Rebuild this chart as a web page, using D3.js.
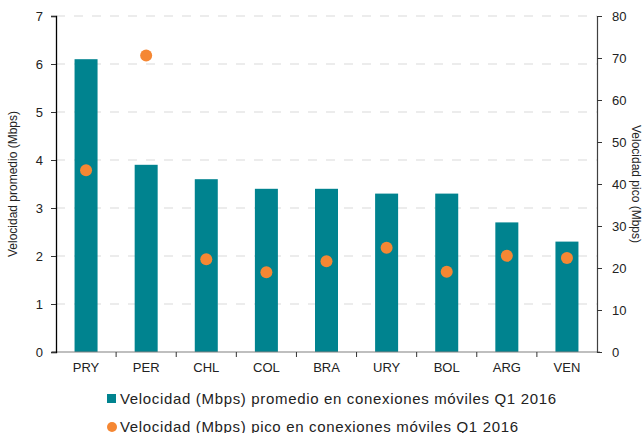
<!DOCTYPE html>
<html>
<head>
<meta charset="utf-8">
<script src="https://cdn.jsdelivr.net/npm/d3@7"></script>
<style>
  body { margin: 0; background: #fff; }
  svg { display: block; font-family: "Liberation Sans", Arial, sans-serif; }
</style>
</head>
<body>
<svg id="chart" width="643" height="433"></svg>
<script>
// Países y velocidades móviles, Q1 2016
const countries = ["PRY", "PER", "CHL", "COL", "BRA", "URY", "BOL", "ARG", "VEN"];
const avgSpeed  = [6.1, 3.9, 3.6, 3.4, 3.4, 3.3, 3.3, 2.7, 2.3];
const peakSpeed = [43.3, 70.6, 22.1, 19.0, 21.6, 24.8, 19.1, 22.9, 22.4];
const leftTicks  = [0, 1, 2, 3, 4, 5, 6, 7];
const rightTicks = [0, 10, 20, 30, 40, 50, 60, 70, 80];
const seriesNames = [
  "Velocidad (Mbps) promedio en conexiones móviles Q1 2016",
  "Velocidad (Mbps) pico en conexiones móviles Q1 2016"
];

const barColor = "#00838f";
const dotColor = "#f58733";

const svg = d3.select("#chart");
const m = { left: 56, right: 597, top: 16, bottom: 352 };

const x = d3.scaleBand().domain(countries).range([m.left, m.right]).paddingInner(0).paddingOuter(0);
const yL = d3.scaleLinear().domain([0, 7]).range([m.bottom, m.top]);
const yR = d3.scaleLinear().domain([0, 80]).range([m.bottom, m.top]);

// Líneas de cuadrícula discontinuas
svg.append("g")
  .selectAll("line")
  .data(leftTicks.filter(d => d > 0))
  .join("line")
  .attr("x1", m.left).attr("x2", m.right)
  .attr("y1", d => yL(d)).attr("y2", d => yL(d))
  .attr("stroke", "#d9d9d9")
  .attr("stroke-width", 1.2)
  .attr("stroke-dasharray", "9,9");

// Barras: velocidad promedio
const barW = 23;
svg.append("g")
  .selectAll("rect")
  .data(countries)
  .join("rect")
  .attr("x", (d) => x(d) + x.bandwidth() / 2 - barW / 2)
  .attr("width", barW)
  .attr("y", (d, i) => yL(avgSpeed[i]))
  .attr("height", (d, i) => yL(0) - yL(avgSpeed[i]))
  .attr("fill", barColor);

// Eje X
const xAxisG = svg.append("g").attr("transform", `translate(0,${m.bottom})`);
xAxisG.append("line")
  .attr("x1", m.left - 4).attr("x2", m.right + 3)
  .attr("y1", 0).attr("y2", 0)
  .attr("stroke", "#808080").attr("stroke-width", 1.2);
xAxisG.selectAll("line.tick")
  .data(countries.slice(1))
  .join("line")
  .attr("class", "tick")
  .attr("x1", d => x(d)).attr("x2", d => x(d))
  .attr("y1", 0).attr("y2", 5)
  .attr("stroke", "#333").attr("stroke-width", 1);
xAxisG.selectAll("text")
  .data(countries)
  .join("text")
  .attr("x", d => x(d) + x.bandwidth() / 2)
  .attr("y", 20)
  .attr("text-anchor", "middle")
  .attr("font-size", 13)
  .attr("fill", "#222")
  .text(d => d);

// Eje izquierdo
const leftAxis = d3.axisLeft(yL).tickValues(leftTicks).tickSize(5).tickPadding(8).tickFormat(d3.format("d"));
const gL = svg.append("g").attr("transform", `translate(${m.left},0)`).call(leftAxis);
gL.select(".domain").attr("stroke", "#000").attr("stroke-width", 1.3);
gL.selectAll(".tick line").attr("stroke", "#333");
gL.selectAll(".tick text").attr("font-size", 13).attr("fill", "#222").attr("font-family", "Liberation Sans, Arial, sans-serif");

// Eje derecho
const rightAxis = d3.axisRight(yR).tickValues(rightTicks).tickSize(5).tickPadding(10).tickFormat(d3.format("d"));
const gR = svg.append("g").attr("transform", `translate(${m.right},0)`).call(rightAxis);
gR.select(".domain").attr("stroke", "#404040").attr("stroke-width", 1.2);
gR.selectAll(".tick line").attr("stroke", "#333");
gR.selectAll(".tick text").attr("font-size", 13).attr("fill", "#222").attr("font-family", "Liberation Sans, Arial, sans-serif");

// Puntos: velocidad pico
svg.append("g")
  .selectAll("circle")
  .data(countries)
  .join("circle")
  .attr("cx", d => x(d) + x.bandwidth() / 2)
  .attr("cy", (d, i) => yR(peakSpeed[i]))
  .attr("r", 6)
  .attr("fill", dotColor);

// Títulos de ejes
svg.append("text")
  .attr("transform", `translate(17,${(m.top + m.bottom) / 2}) rotate(-90)`)
  .attr("text-anchor", "middle")
  .attr("font-size", 12)
  .attr("fill", "#222")
  .text("Velocidad promedio (Mbps)");
svg.append("text")
  .attr("transform", `translate(632,${(m.top + m.bottom) / 2}) rotate(90)`)
  .attr("text-anchor", "middle")
  .attr("font-size", 12)
  .attr("fill", "#222")
  .text("Velocidad pico (Mbps)");

// Leyenda
const lg = svg.append("g");
lg.append("rect").attr("x", 107).attr("y", 394).attr("width", 9).attr("height", 9).attr("fill", barColor);
lg.append("text").attr("x", 120).attr("y", 404).attr("font-size", 15)
  .attr("textLength", 436).attr("lengthAdjust", "spacing")
  .attr("fill", "#222").text(seriesNames[0]);
lg.append("circle").attr("cx", 112).attr("cy", 427).attr("r", 5).attr("fill", dotColor);
lg.append("text").attr("x", 120).attr("y", 432).attr("font-size", 15)
  .attr("textLength", 398).attr("lengthAdjust", "spacing")
  .attr("fill", "#222").text(seriesNames[1]);
</script>
</body>
</html>
